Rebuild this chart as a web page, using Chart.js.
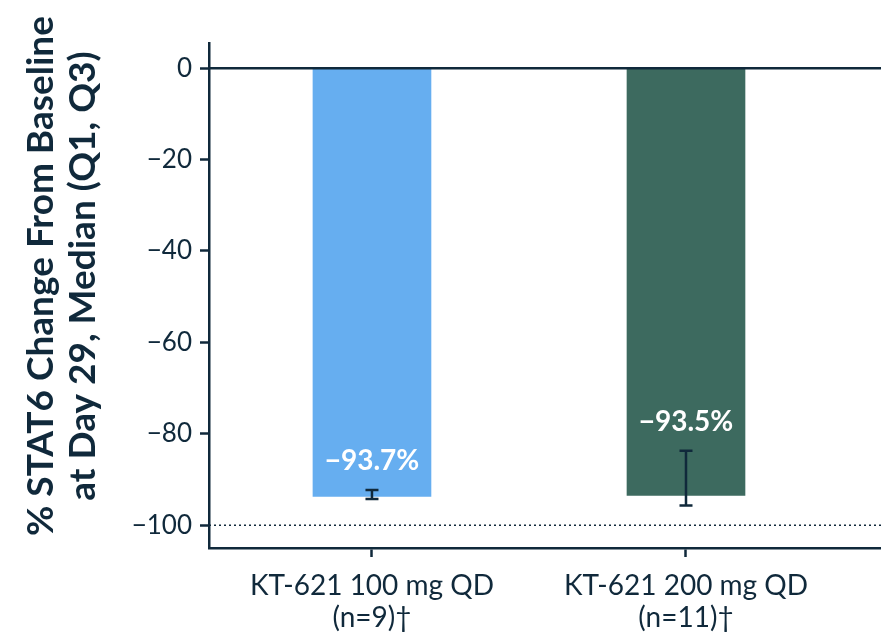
<!DOCTYPE html>
<html>
<head>
<meta charset="utf-8">
<script src="https://cdn.jsdelivr.net/npm/chart.js@4"></script>
<style>
  html, body { margin: 0; padding: 0; background: #fff; }
  #wrap { width: 881px; height: 635px; }
</style>
</head>
<body>
<div id="wrap"><canvas id="chart"></canvas></div>
<script>
const groups = ['KT-621 100 mg QD', 'KT-621 200 mg QD'];
const nLabels = ['(n=9)†', '(n=11)†'];
const medians = [-93.7, -93.5];
const q1 = [-94.3, -95.7];
const q3 = [-92.3, -83.7];
const valueLabels = ['−93.7%', '−93.5%'];
const yTicks = [0, -20, -40, -60, -80, -100];
const refLines = [0, -100];
const yTitle = ['% STAT6 Change From Baseline', 'at Day 29, Median (Q1, Q3)'];

const barColors = ['#66aef0', '#3d6a5f'];
const NAVY = '#10293b';
const FONT = 'Lato, "Noto Sans", sans-serif';

// reference lines, IQR whiskers, value labels and the y title
const overlay = {
  id: 'overlay',
  afterDatasetsDraw(chart) {
    const { ctx, chartArea, scales: { x, y } } = chart;
    ctx.save();
    ctx.strokeStyle = NAVY;

    refLines.forEach(v => {
      const py = y.getPixelForValue(v);
      ctx.beginPath();
      if (v === 0) { ctx.lineWidth = 2.5; ctx.setLineDash([]); }
      else { ctx.lineWidth = 1.5; ctx.setLineDash([2, 3]); }
      ctx.moveTo(chartArea.left, py);
      ctx.lineTo(chartArea.right, py);
      ctx.stroke();
    });
    ctx.setLineDash([]);

    medians.forEach((m, i) => {
      const px = x.getPixelForValue(i);
      const top = y.getPixelForValue(q3[i]);
      const bot = y.getPixelForValue(q1[i]);
      ctx.lineWidth = 2.5;
      ctx.beginPath();
      ctx.moveTo(px, top); ctx.lineTo(px, bot);
      ctx.moveTo(px - 6.5, top); ctx.lineTo(px + 6.5, top);
      ctx.moveTo(px - 6.5, bot); ctx.lineTo(px + 6.5, bot);
      ctx.stroke();

      ctx.fillStyle = '#ffffff';
      ctx.font = 'bold 28px ' + FONT;
      ctx.textAlign = 'center';
      ctx.textBaseline = 'middle';
      ctx.fillText(valueLabels[i], px, top - 29);
    });

    ctx.fillStyle = NAVY;
    ctx.font = 'bold 37px ' + FONT;
    ctx.textAlign = 'center';
    ctx.textBaseline = 'middle';
    ctx.translate(0, 276);
    ctx.rotate(-Math.PI / 2);
    ctx.fillText(yTitle[0], 0, 41);
    ctx.fillText(yTitle[1], 0, 83);
    ctx.restore();
  }
};

new Chart(document.getElementById('chart'), {
  type: 'bar',
  data: {
    datasets: [{
      data: medians.map((m, i) => ({ x: i, y: m })),
      backgroundColor: barColors,
      barThickness: 118
    }]
  },
  options: {
    responsive: true,
    maintainAspectRatio: false,
    animation: false,
    devicePixelRatio: 1,
    layout: { padding: { top: 43, right: 0, bottom: 0, left: 0 } },
    plugins: { legend: { display: false }, tooltip: { enabled: false } },
    scales: {
      x: {
        type: 'linear',
        offset: false,
        min: -0.519,
        max: 1.621,
        afterBuildTicks: s => { s.ticks = groups.map((g, i) => ({ value: i })); },
        afterFit: s => { s.height = 87; },
        grid: { offset: false, drawOnChartArea: false, tickLength: 9, tickColor: NAVY, tickWidth: 2.5 },
        border: { color: NAVY, width: 2.5 },
        ticks: {
          color: NAVY,
          font: { family: FONT, size: 28, lineHeight: 1.15 },
          padding: 13,
          maxRotation: 0,
          autoSkip: false,
          callback: (v, i) => [groups[i], nLabels[i]]
        }
      },
      y: {
        min: -105,
        max: 5.5,
        afterBuildTicks: s => { s.ticks = yTicks.map(v => ({ value: v })); },
        afterFit: s => { s.width = 209; },
        grid: { drawOnChartArea: false, tickLength: 9, tickColor: NAVY, tickWidth: 2.5 },
        border: { color: NAVY, width: 2.5 },
        ticks: {
          color: NAVY,
          font: { family: FONT, size: 26 },
          padding: 8,
          callback: v => String(v).replace('-', '−')
        }
      }
    }
  },
  plugins: [overlay]
});
</script>
</body>
</html>
